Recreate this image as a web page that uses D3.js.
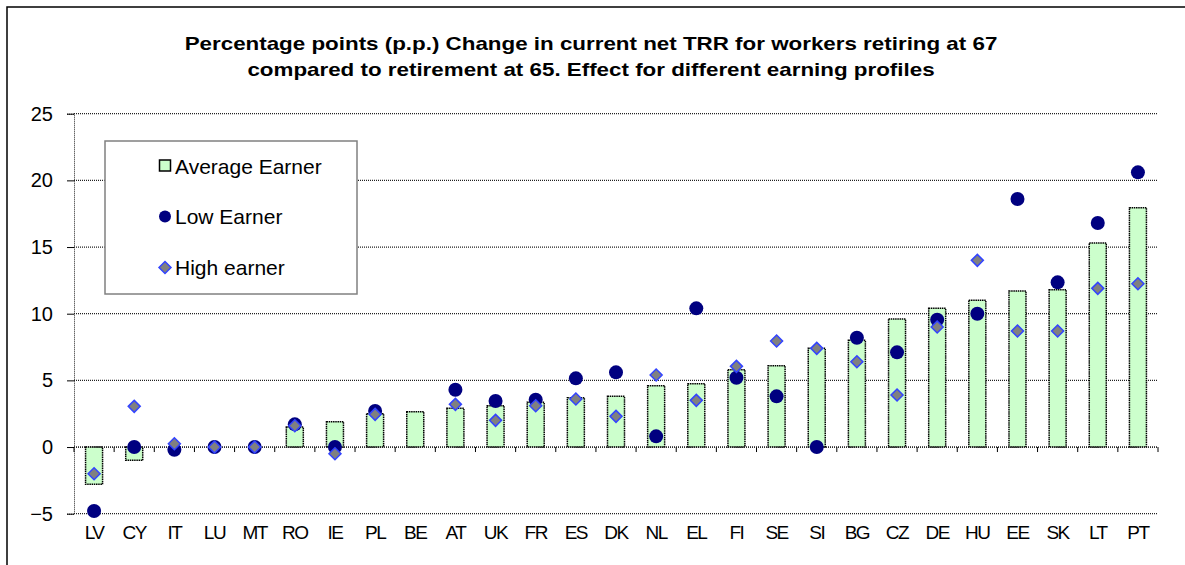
<!DOCTYPE html>
<html><head><meta charset="utf-8">
<script src="https://cdn.jsdelivr.net/npm/d3@7"></script>
<style>
html,body{margin:0;padding:0;background:#fff;}
svg{display:block;font-family:"Liberation Sans",Arial,sans-serif;}
</style></head>
<body>
<svg id="chart" width="1185" height="565"></svg>
<script>
const categories = ["LV","CY","IT","LU","MT","RO","IE","PL","BE","AT","UK","FR","ES","DK","NL","EL","FI","SE","SI","BG","CZ","DE","HU","EE","SK","LT","PT"];
const averageEarner = [-2.8,-1.0,0.0,0.0,0.0,1.5,1.9,2.5,2.65,2.9,3.1,3.35,3.7,3.8,4.6,4.75,5.8,6.1,7.4,8.0,9.6,10.4,11.0,11.7,11.8,15.3,17.95];
const lowEarner = [-4.8,0.0,-0.2,0.0,0.0,1.7,0.0,2.7,null,4.3,3.45,3.55,5.15,5.6,0.8,10.4,5.2,3.8,0.0,8.2,7.1,9.55,10.0,18.6,12.35,16.8,20.6];
const highEarner = [-2.0,3.05,0.25,0.0,0.0,1.6,-0.5,2.45,null,3.2,2.0,3.1,3.6,2.3,5.4,3.5,6.05,7.95,7.4,6.4,3.9,9.0,14.0,8.7,8.7,11.9,12.25];
const yTicks = [-5,0,5,10,15,20,25];
const titleLines = ["Percentage points (p.p.) Change in current net TRR for workers retiring at 67","compared to retirement at 65. Effect for different earning profiles"];
const legendLabels = ["Average Earner","Low Earner","High earner"];

const svg = d3.select("#chart");
const L = 74, R = 1158, T = 113.7, B = 513.7;

// outer border
svg.append("rect").attr("x",7).attr("y",7).attr("width",1200).attr("height",600)
  .attr("fill","none").attr("stroke","#000").attr("stroke-width",1.5);

// title
svg.append("g").attr("transform","translate(591,0) scale(1.21,1)")
  .selectAll("text").data(titleLines).join("text")
  .attr("x",0).attr("y",(d,i)=>50+i*26)
  .attr("text-anchor","middle").attr("font-weight","bold").attr("font-size",18.5)
  .attr("fill","#000").text(d=>d);

const x = d3.scaleBand().domain(categories).range([L,R]).padding(0);
const y = d3.scaleLinear().domain([-5,25]).range([B,T]);

// gridlines
svg.append("g").selectAll("line").data(yTicks).join("line")
  .attr("x1",L).attr("x2",R).attr("y1",d=>y(d)).attr("y2",d=>y(d))
  .attr("stroke","#222").attr("stroke-width",1.2).attr("stroke-dasharray","1,1");

// y axis
const yAxis = d3.axisLeft(y).tickValues(yTicks).tickSize(7).tickPadding(14);
const gy = svg.append("g").attr("transform",`translate(${L},0)`).call(yAxis);
gy.select(".domain").attr("stroke","#222").attr("stroke-dasharray","1,1");
gy.selectAll(".tick line").attr("stroke","#000");
gy.selectAll(".tick text").attr("font-size",20).attr("font-family","Liberation Sans, Arial, sans-serif").attr("fill","#000");

// x axis at zero with boundary ticks
const bounds = categories.map((c)=>x(c)).concat([R]);
svg.append("g").selectAll("line").data(bounds).join("line")
  .attr("x1",d=>d).attr("x2",d=>d).attr("y1",y(0)).attr("y2",y(0)+5)
  .attr("stroke","#000").attr("stroke-width",1);

// x labels
svg.append("g").selectAll("text").data(categories).join("text")
  .attr("x",d=>x(d)+x.bandwidth()/2).attr("y",539)
  .attr("text-anchor","middle").attr("font-size",19).attr("letter-spacing","-1.5px")
  .attr("fill","#000").text(d=>d);

// bars
const bw = 17;
svg.append("g").selectAll("rect").data(categories).join("rect")
  .attr("x",d=>x(d)+x.bandwidth()/2-bw/2)
  .attr("y",(d,i)=>y(Math.max(0,averageEarner[i])))
  .attr("width",bw)
  .attr("height",(d,i)=>Math.abs(y(averageEarner[i])-y(0)))
  .attr("fill","#ccffcc").attr("stroke","#000").attr("stroke-width",1.5).attr("stroke-dasharray","1.5,0.7");

// zero line redraw
svg.append("line").attr("x1",L).attr("x2",R).attr("y1",y(0)).attr("y2",y(0))
  .attr("stroke","#222").attr("stroke-width",1.2).attr("stroke-dasharray","1,1");

// low earner circles
svg.append("g").selectAll("circle").data(categories.map((c,i)=>({c,v:lowEarner[i]})).filter(d=>d.v!==null)).join("circle")
  .attr("cx",d=>x(d.c)+x.bandwidth()/2).attr("cy",d=>y(d.v)).attr("r",7)
  .attr("fill","#000080");

// high earner diamonds
const dsz = 6;
const diamond = (cx,cy,s)=>`M${cx},${cy-s}L${cx+s},${cy}L${cx},${cy+s}L${cx-s},${cy}Z`;
svg.append("g").selectAll("path").data(categories.map((c,i)=>({c,v:highEarner[i]})).filter(d=>d.v!==null)).join("path")
  .attr("d",d=>diamond(x(d.c)+x.bandwidth()/2,y(d.v),dsz))
  .attr("fill","#808080").attr("stroke","#3344ff").attr("stroke-width",1.5);

// legend
const lg = svg.append("g");
lg.append("rect").attr("x",105).attr("y",141).attr("width",252).attr("height",153)
  .attr("fill","#fff").attr("stroke","#808080").attr("stroke-width",1.5);
const ly = [166,216.5,267.5];
lg.append("rect").attr("x",159.5).attr("y",ly[0]-6).attr("width",11).attr("height",11)
  .attr("fill","#ccffcc").attr("stroke","#000").attr("stroke-width",1.5);
lg.append("circle").attr("cx",165).attr("cy",ly[1]).attr("r",6).attr("fill","#000080");
lg.append("path").attr("d",diamond(165,ly[2],6)).attr("fill","#808080").attr("stroke","#3344ff").attr("stroke-width",1.5);
lg.selectAll("text.lt").data(legendLabels).join("text").attr("class","lt")
  .attr("x",175).attr("y",(d,i)=>ly[i]+7.5).attr("font-size",21).attr("fill","#000").text(d=>d);
</script>
</body></html>
